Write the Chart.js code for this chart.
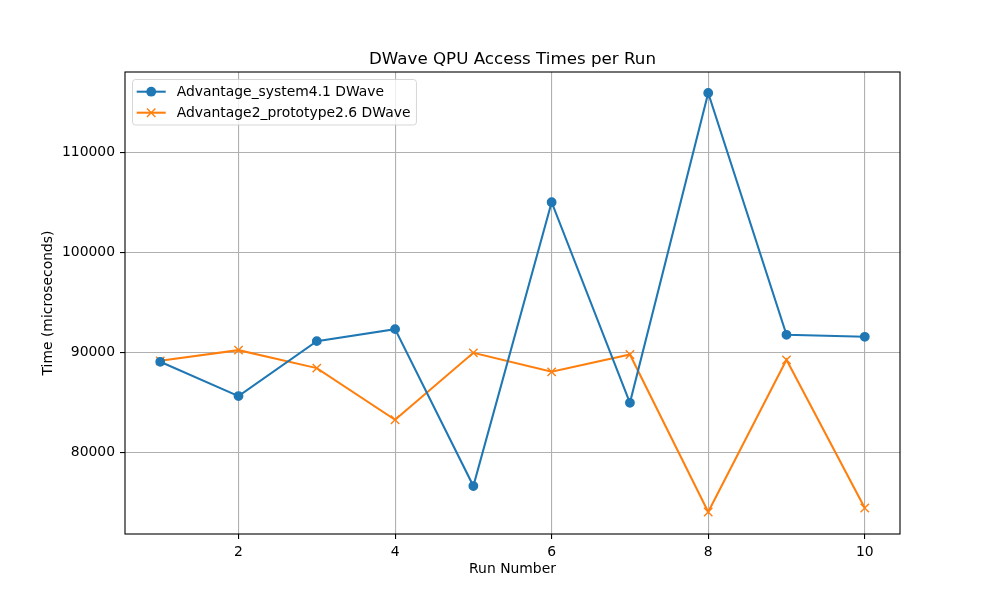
<!DOCTYPE html>
<html>
<head>
<meta charset="utf-8">
<script src="https://cdn.jsdelivr.net/npm/chart.js@4"></script>
<style>
html, body { margin: 0; padding: 0; background: #fff; }
</style>
</head>
<body>
<canvas id="qpuChart" width="1000" height="600"></canvas>
<script>
// runs and QPU access times (microseconds)
const runs = [1, 2, 3, 4, 5, 6, 7, 8, 9, 10];
const advantage41 = [89030, 85600, 91100, 92300, 76600, 105000, 84930, 115930, 91730, 91530];
const advantage2proto = [89130, 90200, 88400, 83230, 89930, 88030, 89760, 74000, 89230, 74400];
const seriesLabels = ['Advantage_system4.1 DWave', 'Advantage2_prototype2.6 DWave'];
const xTicks = [2, 4, 6, 8, 10];
const yTicks = [80000, 90000, 100000, 110000];

const FONT = 'DejaVu Sans';
const tickFont = { family: FONT, size: 13.9 };

// axes frame + title + legend drawn like matplotlib
const framePlugin = {
  id: 'frame',
  afterDatasetsDraw(chart) {
    const { ctx, chartArea: a } = chart;
    ctx.save();
    ctx.strokeStyle = '#000';
    ctx.lineWidth = 1.1;
    ctx.strokeRect(a.left, a.top, a.right - a.left, a.bottom - a.top);

    ctx.fillStyle = '#000';
    ctx.font = '16.7px "' + FONT + '"';
    ctx.textAlign = 'center';
    ctx.textBaseline = 'alphabetic';
    ctx.fillText('DWave QPU Access Times per Run', (a.left + a.right) / 2, a.top - 8.3);

    // legend
    ctx.font = '13.9px "' + FONT + '"';
    const ds = chart.data.datasets;
    let maxW = 0;
    ds.forEach(d => { maxW = Math.max(maxW, ctx.measureText(d.label).width); });
    const bx = 132.5, by = 79.5;
    const textX = 176.7;
    const bw = textX + maxW + 6 - bx, bh = 45.5;
    ctx.beginPath();
    ctx.roundRect(bx, by, bw, bh, 3);
    ctx.fillStyle = 'rgba(255,255,255,0.8)';
    ctx.fill();
    ctx.strokeStyle = 'rgba(204,204,204,0.8)';
    ctx.lineWidth = 1;
    ctx.stroke();
    ds.forEach((d, i) => {
      const y = 91.7 + i * 21;
      ctx.strokeStyle = d.borderColor;
      ctx.lineWidth = 2.08;
      ctx.beginPath();
      ctx.moveTo(136.7, y);
      ctx.lineTo(165.7, y);
      ctx.stroke();
      const mx = 151.2;
      if (d.pointStyle === 'circle') {
        ctx.fillStyle = d.borderColor;
        ctx.beginPath();
        ctx.arc(mx, y, 4.9, 0, Math.PI * 2);
        ctx.fill();
      } else {
        ctx.lineWidth = 1.4;
        ctx.beginPath();
        ctx.moveTo(mx - 4.2, y - 4.2); ctx.lineTo(mx + 4.2, y + 4.2);
        ctx.moveTo(mx - 4.2, y + 4.2); ctx.lineTo(mx + 4.2, y - 4.2);
        ctx.stroke();
      }
      ctx.fillStyle = '#000';
      ctx.textAlign = 'left';
      ctx.textBaseline = 'middle';
      ctx.fillText(d.label, textX, y + 1);
    });
    ctx.restore();
  }
};

const ctx = document.getElementById('qpuChart').getContext('2d');
const chart = new Chart(ctx, {
  type: 'line',
  data: {
    datasets: [{
      label: seriesLabels[0],
      data: runs.map((r, i) => ({ x: r, y: advantage41[i] })),
      borderColor: '#1f77b4',
      backgroundColor: '#1f77b4',
      pointBackgroundColor: '#1f77b4',
      pointBorderColor: '#1f77b4',
      pointStyle: 'circle',
      pointRadius: 4.2,
      pointBorderWidth: 1.4,
      borderWidth: 2.08,
      tension: 0,
      fill: false
    }, {
      label: seriesLabels[1],
      data: runs.map((r, i) => ({ x: r, y: advantage2proto[i] })),
      borderColor: '#ff7f0e',
      backgroundColor: '#ff7f0e',
      pointBorderColor: '#ff7f0e',
      pointStyle: 'crossRot',
      pointRadius: 5.9,
      pointBorderWidth: 1.4,
      borderWidth: 2.08,
      tension: 0,
      fill: false
    }]
  },
  options: {
    responsive: false,
    animation: false,
    layout: { padding: { left: 40, top: 72, right: 100, bottom: 0 } },
    plugins: {
      legend: { display: false },
      title: { display: false },
      tooltip: { enabled: false }
    },
    scales: {
      x: {
        type: 'linear',
        min: 0.55,
        max: 10.45,
        afterBuildTicks: s => { s.ticks = xTicks.map(v => ({ value: v })); },
        afterFit: s => { s.height = 66; },
        border: { display: false },
        grid: { color: '#b0b0b0', lineWidth: 1.1, tickColor: '#000', tickLength: 5, tickWidth: 1.1 },
        ticks: { color: '#000', font: tickFont, padding: 5, maxRotation: 0, autoSkip: false, callback: v => String(v) },
        title: { display: true, text: 'Run Number', color: '#000', font: tickFont, padding: { top: 0, bottom: 22.6 } }
      },
      y: {
        type: 'linear',
        min: 71800,
        max: 118030,
        afterBuildTicks: s => { s.ticks = yTicks.map(v => ({ value: v })); },
        afterFit: s => { s.width = 85; },
        border: { display: false },
        grid: { color: '#b0b0b0', lineWidth: 1.1, tickColor: '#000', tickLength: 5, tickWidth: 1.1 },
        ticks: { color: '#000', font: tickFont, padding: 5, autoSkip: false, callback: v => String(v) },
        title: { display: true, text: 'Time (microseconds)', color: '#000', font: tickFont, padding: { top: 0, bottom: 0 } }
      }
    }
  },
  plugins: [framePlugin]
});
</script>
</body>
</html>
